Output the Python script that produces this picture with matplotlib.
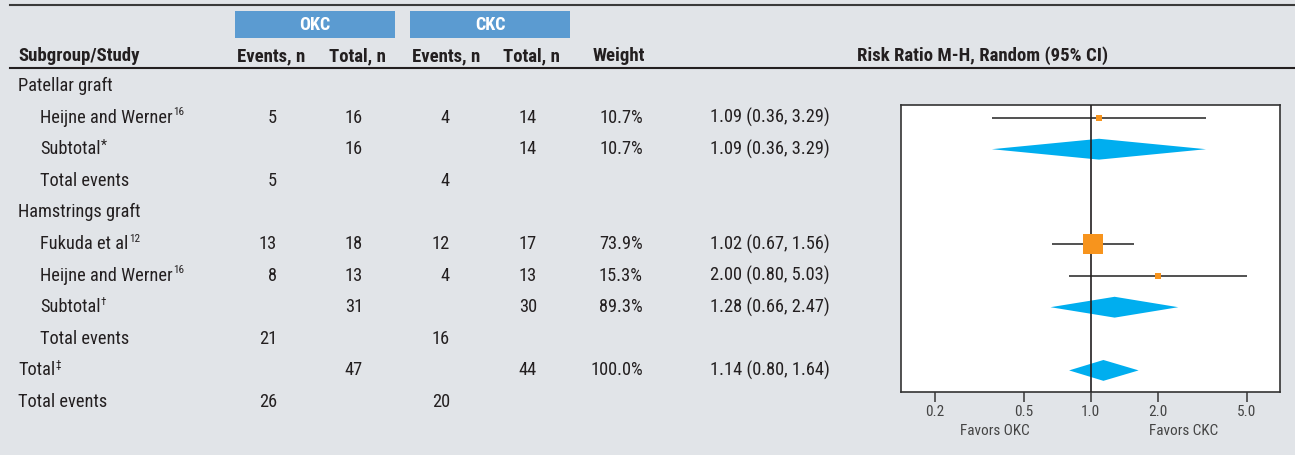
import matplotlib
matplotlib.use("Agg")
import matplotlib.pyplot as plt
from matplotlib.patches import Rectangle, Polygon

plt.rcParams['font.family'] = ['Roboto Condensed', 'DejaVu Sans']

# table rows, top to bottom
labels = ["Patellar graft", "Heijne and Werner", "Subtotal", "Total events",
          "Hamstrings graft", "Fukuda et al", "Heijne and Werner", "Subtotal",
          "Total events", "Total", "Total events"]
sups = ["", "16", "*", "", "", "12", "16", "\u2020", "", "\u2021", ""]
indent = [0, 1, 1, 1, 0, 1, 1, 1, 1, 0, 0]

okc_events = ["", "5", "", "5", "", "13", "8", "", "21", "", "26"]
okc_total = ["", "16", "16", "", "", "18", "13", "31", "", "47", ""]
ckc_events = ["", "4", "", "4", "", "12", "4", "", "16", "", "20"]
ckc_total = ["", "14", "14", "", "", "17", "13", "30", "", "44", ""]

# forest plot entries: row index, weight (%), risk ratio, lower, upper
est_rows = [1, 2, 5, 6, 7, 9]
est_kind = ["study", "pooled", "study", "study", "pooled", "pooled"]
est_weight = [10.7, 10.7, 73.9, 15.3, 89.3, 100.0]
est_rr = [1.09, 1.09, 1.02, 2.00, 1.28, 1.14]
est_lo = [0.36, 0.36, 0.67, 0.80, 0.66, 0.80]
est_hi = [3.29, 3.29, 1.56, 5.03, 2.47, 1.64]

xticks = [0.2, 0.5, 1.0, 2.0, 5.0]

BG = "#e1e4e8"
INK = "#231f20"
HEAD_BLUE = "#5b9bd1"
ORANGE = "#f7941d"
CYAN = "#00aeef"

W, H = 1295, 455
ROW0, ROWH = 86, 31.6


def row_of(px):
    return (px - ROW0) / ROWH


fig = plt.figure(figsize=(W / 100, H / 100), dpi=100, facecolor=BG)
ax = fig.add_axes([0, 0, 1, 1])
ax.set_facecolor(BG)
ax.set_xlim(0, W)
ax.set_ylim(row_of(H), row_of(0))
ax.axis("off")

# rules
ax.plot([10, W], [row_of(5), row_of(5)], color="#3a3a3a", lw=1.5)
ax.plot([10, W], [row_of(68), row_of(68)], color=INK, lw=1.5)

# group header boxes
for x0, x1, name in [(235, 395, "OKC"), (410, 570, "CKC")]:
    ax.add_patch(Rectangle((x0, row_of(11)), x1 - x0, row_of(38) - row_of(11),
                           facecolor=HEAD_BLUE, edgecolor="none"))
    ax.text((x0 + x1) / 2, row_of(24.5), name, color="white", fontsize=13,
            fontweight="bold", ha="center", va="center")

# column headers
hdr = dict(fontsize=13.5, fontweight="bold", color=INK, va="center")
ax.text(18, -0.95, "Subgroup/Study", ha="left", **hdr)
ax.text(271, -0.95, "Events, n", ha="center", **hdr)
ax.text(357, -0.95, "Total, n", ha="center", **hdr)
ax.text(446, -0.95, "Events, n", ha="center", **hdr)
ax.text(531, -0.95, "Total, n", ha="center", **hdr)
ax.text(619, -0.95, "Weight", ha="center", **hdr)
ax.text(983, -0.95, "Risk Ratio M-H, Random (95% CI)", ha="center", **hdr)

cell = dict(fontsize=13.2, color=INK, va="center")
for i, lab in enumerate(labels):
    t = ax.text(40 if indent[i] else 18, i, lab, ha="left", **cell)
    if sups[i]:
        ax.annotate(sups[i], xy=(1, 1), xycoords=t, xytext=(0.3, 1.0),
                    textcoords="offset points", ha="left", va="top",
                    fontsize=10 if sups[i] == "*" else 8, color=INK)
    ax.text(277, i, okc_events[i], ha="right", **cell)
    ax.text(363, i, okc_total[i], ha="right", **cell)
    ax.text(450, i, ckc_events[i], ha="right", **cell)
    ax.text(537, i, ckc_total[i], ha="right", **cell)

for r, w, rr, lo, hi in zip(est_rows, est_weight, est_rr, est_lo, est_hi):
    ax.text(643, r, f"{w:.1f}%", ha="right", **cell)
    ax.text(710, r, f"{rr:.2f} ({lo:.2f}, {hi:.2f})", ha="left", **cell)

# forest plot panel
fx0, fx1, fy0, fy1 = 901, 1280, 105, 392
fax = fig.add_axes([fx0 / W, 1 - fy1 / H, (fx1 - fx0) / W, (fy1 - fy0) / H])
fax.set_facecolor("white")
fax.set_xscale("log")
fax.set_xlim(10 ** -0.851, 10 ** 0.849)
fax.set_ylim(row_of(fy1), row_of(fy0))
for s in fax.spines.values():
    s.set_color("#333333")
    s.set_linewidth(1.2)

fax.axvline(1.0, color=INK, lw=1.2, zorder=3)
for r, kind, w, rr, lo, hi in zip(est_rows, est_kind, est_weight, est_rr, est_lo, est_hi):
    if kind == "study":
        fax.hlines(r, lo, hi, color="#333333", lw=1.2, zorder=2)
        ms = 13.7 * (w / 73.9) ** 0.65
        fax.plot([rr], [r], marker="s", ms=ms, color=ORANGE, mec=ORANGE,
                 mew=0, ls="none", zorder=4)
    else:
        h = 0.33
        fax.add_patch(Polygon([(lo, r), (rr, r - h), (hi, r), (rr, r + h)],
                              closed=True, facecolor=CYAN, edgecolor="none",
                              zorder=2))

fax.set_xticks(xticks)
fax.set_xticklabels([f"{v:.1f}" for v in xticks])
fax.xaxis.set_minor_locator(matplotlib.ticker.NullLocator())
fax.set_yticks([])
fax.tick_params(axis="x", direction="out", length=7, width=1.2, color="#444444",
                labelsize=11, labelcolor="#444444", pad=2)

ax.text(995, row_of(431), "Favors OKC", ha="center", va="center",
        fontsize=11, color="#444444")
ax.text(1184, row_of(431), "Favors CKC", ha="center", va="center",
        fontsize=11, color="#444444")

fig.savefig("out.png", dpi=100, facecolor=BG)
